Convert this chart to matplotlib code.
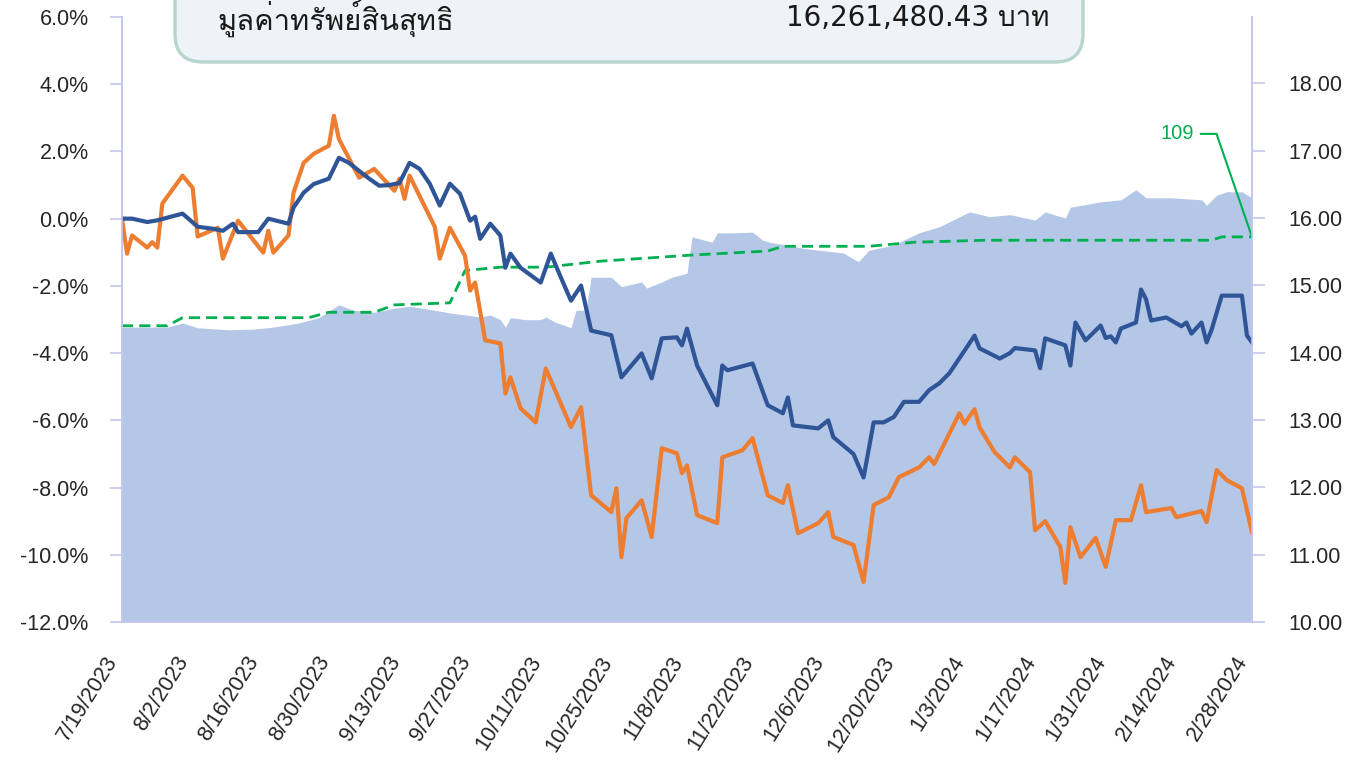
import matplotlib
matplotlib.use("Agg")
import matplotlib.pyplot as plt
import matplotlib.ticker as mticker
from matplotlib import font_manager
from matplotlib.ft2font import FT2Font
from matplotlib.patches import FancyBboxPatch
from matplotlib.transforms import IdentityTransform
import pandas as pd

# ---------------- data ----------------
start_date = "2023-07-19"
end_date = "2024-02-28"
tick_step_days = 14

# fund return (%), left axis; x = days after start_date
fund_days = [0, 2, 5, 7, 9, 12, 15, 18, 20, 22, 23, 27, 29, 33, 34, 36, 38, 41, 43, 45,
             47, 49, 51, 53, 55, 57, 59, 61, 63, 65, 67, 69, 70, 71, 73, 75, 76, 77, 79, 83,
             85, 87, 89, 91, 93, 97, 99, 103, 105, 107, 110, 111, 112, 114, 118, 119, 120, 125, 128, 131,
             132, 133, 138, 140, 141, 145, 147, 149, 151, 153, 155, 158, 160, 162, 164, 169, 170, 174, 176, 177,
             181, 182, 183, 187, 188, 189, 191, 194, 195, 196, 197, 198, 201, 202, 203, 204, 207, 210, 211, 212,
             214, 215, 216, 218, 222, 223, 224]
fund_ret = [0.0, 0.0, -0.1, -0.05, 0.03, 0.15, -0.24, -0.3, -0.36, -0.15, -0.4, -0.4, 0.0, -0.15, 0.33, 0.77, 1.03, 1.19, 1.81, 1.66,
            1.42, 1.19, 0.98, 1.0, 1.06, 1.66, 1.48, 1.04, 0.39, 1.04, 0.74, -0.06, 0.06, -0.6, -0.15, -0.5, -1.46, -1.04, -1.46, -1.9,
            -1.04, -1.75, -2.44, -1.99, -3.33, -3.47, -4.72, -4.01, -4.75, -3.56, -3.53, -3.77, -3.27, -4.37, -5.55, -4.37, -4.51, -4.31, -5.55, -5.79,
            -5.32, -6.15, -6.24, -6.0, -6.5, -7.0, -7.7, -6.06, -6.06, -5.9, -5.45, -5.45, -5.1, -4.9, -4.6, -3.48, -3.86, -4.16, -4.0, -3.85,
            -3.92, -4.45, -3.56, -3.77, -4.37, -3.09, -3.62, -3.18, -3.55, -3.5, -3.68, -3.27, -3.09, -2.11, -2.4, -3.03, -2.94, -3.2, -3.09, -3.42,
            -3.09, -3.68, -3.3, -2.29, -2.29, -3.48, -3.68]

# benchmark return (%), left axis
bench_days = [0, 1, 2, 5, 6, 7, 8, 12, 14, 15, 19, 20, 23, 28, 29, 30, 33, 34, 36, 38,
              41, 42, 43, 47, 50, 54, 55, 56, 57, 62, 63, 65, 68, 69, 70, 72, 75, 76, 77, 79,
              82, 84, 89, 91, 93, 97, 98, 99, 100, 103, 105, 107, 110, 111, 112, 114, 118, 119, 123, 125,
              128, 131, 132, 134, 138, 140, 141, 145, 147, 149, 152, 154, 158, 160, 161, 166, 167, 169, 170, 173,
              176, 177, 180, 181, 183, 186, 187, 188, 190, 193, 195, 197, 200, 202, 203, 208, 209, 214, 215, 217,
              219, 222, 224]
bench_ret = [0.0, -1.04, -0.5, -0.86, -0.7, -0.86, 0.45, 1.28, 0.92, -0.53, -0.27, -1.19, -0.06, -1.01, -0.36, -1.01, -0.5, 0.77, 1.66, 1.93,
             2.17, 3.06, 2.37, 1.22, 1.48, 0.83, 1.19, 0.59, 1.28, -0.24, -1.19, -0.27, -1.1, -2.14, -1.9, -3.62, -3.71, -5.2, -4.72, -5.64,
             -6.06, -4.46, -6.2, -5.61, -8.23, -8.73, -8.02, -10.07, -8.91, -8.38, -9.47, -6.83, -6.98, -7.57, -7.34, -8.82, -9.06, -7.1, -6.89, -6.53,
             -8.23, -8.46, -7.93, -9.36, -9.06, -8.73, -9.47, -9.71, -10.81, -8.52, -8.29, -7.69, -7.4, -7.1, -7.3, -5.79, -6.1, -5.67, -6.21, -6.95,
             -7.4, -7.1, -7.54, -9.27, -9.0, -9.77, -10.84, -9.18, -10.07, -9.5, -10.36, -8.97, -8.97, -7.93, -8.73, -8.61, -8.88, -8.7, -9.03, -7.48,
             -7.78, -8.02, -9.33]

# NAV per unit, right axis (area)
nav_days = [0, 9, 12, 15, 21, 26, 30, 35, 39, 43, 46, 50, 54, 57, 62, 65, 71, 73, 75, 76,
            77, 80, 83, 84, 86, 89, 90, 92, 93, 97, 99, 103, 104, 107, 109, 112, 113, 117, 118, 121,
            125, 127, 129, 132, 135, 143, 146, 148, 153, 158, 162, 168, 172, 176, 181, 183, 187, 188, 194, 198,
            201, 203, 208, 214, 215, 217, 219, 222, 224]
nav_vals = [14.38, 14.38, 14.44, 14.37, 14.34, 14.35, 14.38, 14.44, 14.52, 14.71, 14.63, 14.6, 14.66, 14.69, 14.63, 14.59, 14.53, 14.56, 14.49, 14.38,
            14.52, 14.49, 14.49, 14.53, 14.45, 14.37, 14.63, 14.63, 15.12, 15.12, 14.98, 15.05, 14.96, 15.05, 15.12, 15.18, 15.72, 15.64, 15.78, 15.78,
            15.79, 15.67, 15.63, 15.6, 15.55, 15.48, 15.35, 15.52, 15.6, 15.78, 15.87, 16.09, 16.02, 16.05, 15.97, 16.09, 16.0, 16.16, 16.24, 16.27,
            16.42, 16.3, 16.3, 16.27, 16.19, 16.34, 16.39, 16.39, 16.3]

# green dashed series, right-axis scale
green_days = [0, 9, 12, 37, 41, 50, 54, 65, 68, 75, 84, 95, 113, 128, 131, 148, 157, 171, 216, 218, 224]
green_vals = [14.40, 14.40, 14.52, 14.52, 14.60, 14.60, 14.71, 14.74, 15.22, 15.27, 15.27, 15.36, 15.45, 15.51, 15.58, 15.58, 15.64, 15.67, 15.67, 15.72, 15.72]
green_label = "109"

box_title = "มูลค่าทรัพย์สินสุทธิ"
box_value = "16,261,480.43 บาท"

left_ticks = [-12, -10, -8, -6, -4, -2, 0, 2, 4, 6]
right_ticks = [10, 11, 12, 13, 14, 15, 16, 17, 18]

# ---------------- styling ----------------
C_FILL = "#b4c7e7"
C_FUND = "#2f5597"
C_BENCH = "#ed7d31"
C_GREEN = "#00b050"
C_SPINE = "#c5c5ee"
C_TEXT = "#262626"

plt.rcParams["font.family"] = ["Liberation Sans", "DejaVu Sans"]


def find_thai_font():
    cands = []
    for fe in font_manager.fontManager.ttflist:
        try:
            f = FT2Font(fe.fname)
            if f.get_char_index(ord("ม")) and f.get_char_index(ord("ท")) and f.get_char_index(ord("1")):
                cands.append(fe.name)
        except Exception:
            pass
    return cands[0] if cands else None


thai_font = find_thai_font()
thai_family = [thai_font, "DejaVu Sans"] if thai_font else ["DejaVu Sans"]
value_family = ["DejaVu Sans", thai_font] if thai_font else ["DejaVu Sans"]

t0 = pd.Timestamp(start_date)
t1 = pd.Timestamp(end_date)


def to_dates(days):
    return t0 + pd.to_timedelta(days, unit="D")


fig = plt.figure(figsize=(13.61, 7.62), dpi=100)
ax1 = fig.add_axes([122 / 1361, 1 - 622 / 762, (1252 - 122) / 1361, (622 - 17) / 762])
ax2 = ax1.twinx()
ax1.set_zorder(ax2.get_zorder() + 1)
ax1.patch.set_visible(False)

# area on right axis
ax2.fill_between(to_dates(nav_days), 10, nav_vals, color=C_FILL, lw=0)
ax2.plot(to_dates(green_days), green_vals, color=C_GREEN, lw=2.0, ls=(0, (4, 2.2)))
ax2.set_ylim(10, 10 + (622 - 17) / 67.33)
ax2.set_yticks(right_ticks)
ax2.yaxis.set_major_formatter(mticker.FuncFormatter(lambda v, p: f"{v:.2f}"))

# lines on left axis
ax1.plot(to_dates(bench_days), bench_ret, color=C_BENCH, lw=3.0, solid_joinstyle="round")
ax1.plot(to_dates(fund_days), fund_ret, color=C_FUND, lw=3.0, solid_joinstyle="round")
ax1.set_ylim(-12, 6)
ax1.set_yticks(left_ticks)
ax1.yaxis.set_major_formatter(mticker.FuncFormatter(lambda v, p: f"{v:.1f}%"))

ax1.set_xlim(t0, t1)
xt = pd.date_range(t0, t1, freq=f"{tick_step_days}D")
ax1.set_xticks(xt)
ax1.set_xticklabels([f"{d.month}/{d.day}/{d.year}" for d in xt], rotation=58,
                    ha="right", va="top", fontsize=15.5, color=C_TEXT)

for ax in (ax1, ax2):
    ax.spines["top"].set_visible(False)
    for s in ("left", "right", "bottom"):
        ax.spines[s].set_color(C_SPINE)
        ax.spines[s].set_linewidth(1.2)

ax1.tick_params(axis="y", direction="out", length=9, width=1.2, color=C_SPINE,
                labelsize=15.5, labelcolor=C_TEXT, pad=15)
ax2.tick_params(axis="y", direction="out", length=9, width=1.2, color=C_SPINE,
                labelsize=15.5, labelcolor=C_TEXT, pad=17)
ax1.tick_params(axis="x", length=0, pad=22)

# annotation for green series
ax2.annotate(green_label, xy=(to_dates([green_days[-1]])[0], green_vals[-1]),
             xytext=(-75, 103), textcoords="offset pixels", ha="center", va="center",
             color=C_GREEN, fontsize=14.5,
             arrowprops=dict(arrowstyle="-", color=C_GREEN, lw=1.5,
                             connectionstyle="angle,angleA=0,angleB=109,rad=0",
                             shrinkA=3, shrinkB=0))

# info box at top
box = FancyBboxPatch((175, 762 - 62), 908, 140, boxstyle="round,pad=0,rounding_size=28",
                     transform=IdentityTransform(), facecolor="#eef3f8", edgecolor="#b7d4cd",
                     linewidth=2.4, zorder=10)
fig.add_artist(box)
fig.text(217 / 1361, 1 - 18 / 762, box_title, ha="left", va="center", fontsize=21,
         color="#1a1a1a", family=thai_family, zorder=11)
fig.text(1050 / 1361, 1 - 18 / 762, box_value, ha="right", va="center", fontsize=20,
         color="#1a1a1a", family=value_family, zorder=11)

fig.savefig("out.png", dpi=100)
